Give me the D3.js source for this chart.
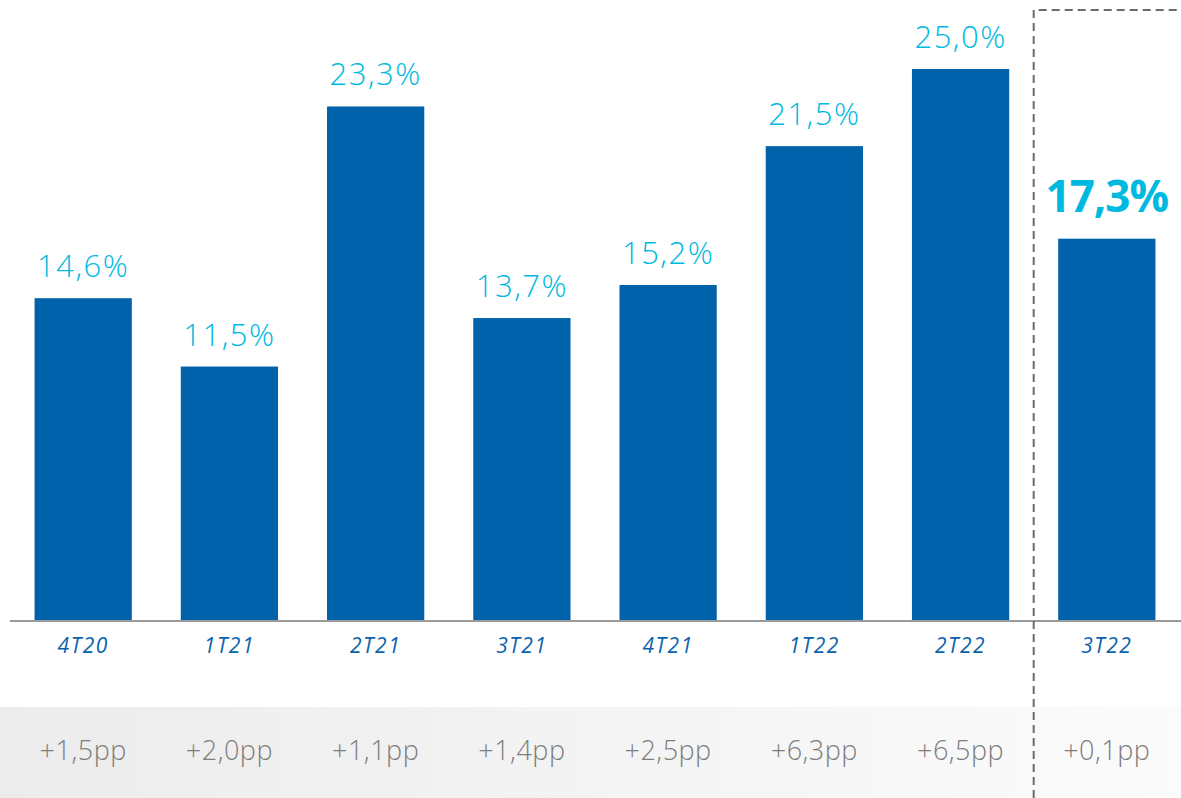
<!DOCTYPE html>
<html>
<head>
<meta charset="utf-8">
<script src="https://cdn.jsdelivr.net/npm/d3@7"></script>
<style>
  html, body { margin: 0; padding: 0; background: #fff; }
  svg { display: block; }
</style>
</head>
<body>
<svg id="chart" width="1181" height="798"></svg>
<script>
// data
const quarters = ["4T20", "1T21", "2T21", "3T21", "4T21", "1T22", "2T22", "3T22"];
const values = [14.6, 11.5, 23.3, 13.7, 15.2, 21.5, 25.0, 17.3];
const valueLabels = ["14,6%", "11,5%", "23,3%", "13,7%", "15,2%", "21,5%", "25,0%", "17,3%"];
const deltas = ["+1,5pp", "+2,0pp", "+1,1pp", "+1,4pp", "+2,5pp", "+6,3pp", "+6,5pp", "+0,1pp"];
const highlight = "3T22";

const BAR = "#0062ab";
const CYAN = "#00b9e0";
const FONT = "'Open Sans', 'Noto Sans', sans-serif";

const svg = d3.select("#chart");
svg.selectAll("*").remove();

const x = d3.scaleBand().domain(quarters).range([10, 1180]).paddingInner(0.335).paddingOuter(0.168);
const y = d3.scaleLinear().domain([0, 25]).range([620, 69]);

// grey band at the bottom
const grad = svg.append("defs").append("linearGradient").attr("id", "band")
  .attr("x1", "0%").attr("x2", "100%");
grad.append("stop").attr("offset", "0%").attr("stop-color", "#ececec");
grad.append("stop").attr("offset", "100%").attr("stop-color", "#fbfbfb");
svg.append("rect").attr("x", 0).attr("y", 707).attr("width", 1181).attr("height", 91)
  .attr("fill", "url(#band)");

// bars
svg.selectAll("rect.bar").data(quarters).join("rect")
  .attr("class", "bar")
  .attr("x", d => x(d))
  .attr("width", x.bandwidth())
  .attr("y", (d, i) => y(values[i]))
  .attr("height", (d, i) => y(0) - y(values[i]))
  .attr("fill", BAR);

// baseline
svg.append("line").attr("x1", 10).attr("x2", 1181).attr("y1", y(0) + 1).attr("y2", y(0) + 1)
  .attr("stroke", "#9a9a9a").attr("stroke-width", 2);

// value labels
svg.selectAll("text.val").data(quarters).join("text")
  .attr("class", "val")
  .attr("x", d => x(d) + x.bandwidth() / 2)
  .attr("y", (d, i) => y(values[i]) - (d === highlight ? 27 : 21))
  .attr("text-anchor", "middle")
  .attr("font-family", FONT)
  .attr("font-weight", d => d === highlight ? 700 : 300)
  .attr("font-size", d => d === highlight ? 44 : 31)
  .attr("letter-spacing", d => d === highlight ? -1 : 1.5)
  .attr("fill", CYAN)
  .text((d, i) => valueLabels[i]);

// quarter labels
svg.selectAll("text.cat").data(quarters).join("text")
  .attr("class", "cat")
  .attr("x", d => x(d) + x.bandwidth() / 2)
  .attr("y", 653)
  .attr("text-anchor", "middle")
  .attr("font-family", FONT)
  .attr("font-style", "italic")
  .attr("font-weight", 500)
  .attr("font-size", 21)
  .attr("letter-spacing", 1.5)
  .attr("fill", "#0a62ad")
  .text(d => d);

// deltas in the band
svg.selectAll("text.delta").data(quarters).join("text")
  .attr("class", "delta")
  .attr("x", d => x(d) + x.bandwidth() / 2)
  .attr("y", 760)
  .attr("text-anchor", "middle")
  .attr("font-family", FONT)
  .attr("font-weight", 300)
  .attr("font-size", 27)
  .attr("letter-spacing", 0.5)
  .attr("fill", "#7d7d7d")
  .text((d, i) => deltas[i]);

// dashed frame round the last quarter
const sep = (x(quarters[6]) + x.bandwidth() + x(highlight)) / 2;
svg.append("path")
  .attr("d", `M${sep},798 V10 H1181`)
  .attr("fill", "none")
  .attr("stroke", "#6b6b6b")
  .attr("stroke-width", 2)
  .attr("stroke-dasharray", "8,5");
</script>
</body>
</html>
